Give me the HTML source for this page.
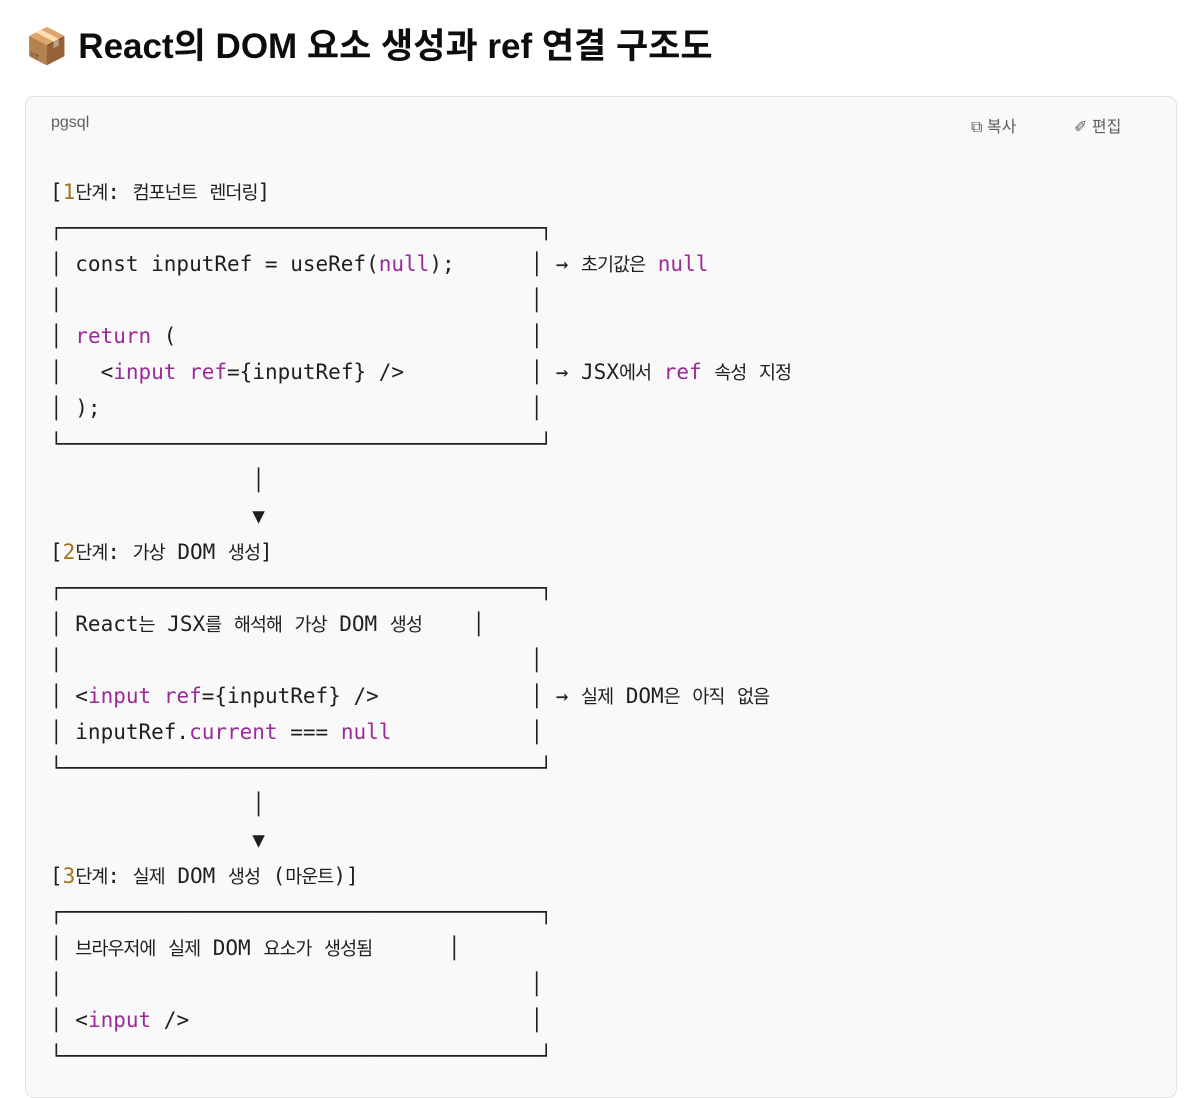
<!DOCTYPE html>
<html><head><meta charset="utf-8"><style>
html,body{margin:0;padding:0;background:#fff;width:1200px;height:1078px;overflow:hidden}
h1{position:absolute;left:25px;top:22px;margin:0;font:bold 35px/50px "Liberation Sans","Noto Sans CJK KR",sans-serif;color:#0d0d0d;letter-spacing:0}
.box{position:absolute;left:25px;top:96px;width:1150px;height:1000px;background:#f9f9f9;border:1px solid #e3e3e3;border-radius:9px}
.lang{position:absolute;left:25px;top:17px;font:16px "Liberation Sans",sans-serif;color:#5d5d5d}
.btn{position:absolute;top:16px;font:16px "Liberation Sans","Noto Sans CJK KR",sans-serif;color:#5d5d5d}
pre{position:absolute;left:24px;top:77px;margin:0;font:21px/36px "DejaVu Sans Mono",monospace;color:#1f1f1f}
.k{font-family:"Noto Sans CJK KR",sans-serif;font-size:18.5px;letter-spacing:-1px}
.b{letter-spacing:0.25px}
.p{color:#9a2a97}.n{color:#a3731c}
</style></head><body>
<h1>📦 React의 DOM 요소 생성과 ref 연결 구조도</h1>
<div class="box">
<div class="lang">pgsql</div>
<div class="btn" style="left:945px">⧉ 복사</div>
<div class="btn" style="left:1048px">✐ 편집</div>
<pre>[<span class="n">1</span><span class="k">단계</span>: <span class="k">컴포넌트</span> <span class="k">렌더링</span>]
<span class="b">┌─────────────────────────────────────┐</span>
│ const inputRef = useRef(<span class="p">null</span>);      │ → <span class="k">초기값은</span> <span class="p">null</span>
│                                     │
│ <span class="p">return</span> (                            │
│   &lt;<span class="p">input</span> <span class="p">ref</span>={inputRef} /&gt;          │ → JSX<span class="k">에서</span> <span class="p">ref</span> <span class="k">속성</span> <span class="k">지정</span>
│ );                                  │
<span class="b">└─────────────────────────────────────┘</span>
                │
                ▼
[<span class="n">2</span><span class="k">단계</span>: <span class="k">가상</span> DOM <span class="k">생성</span>]
<span class="b">┌─────────────────────────────────────┐</span>
│ React<span class="k">는</span> JSX<span class="k">를</span> <span class="k">해석해</span> <span class="k">가상</span> DOM <span class="k">생성</span>    │
│                                     │
│ &lt;<span class="p">input</span> <span class="p">ref</span>={inputRef} /&gt;            │ → <span class="k">실제</span> DOM<span class="k">은</span> <span class="k">아직</span> <span class="k">없음</span>
│ inputRef.<span class="p">current</span> === <span class="p">null</span>           │
<span class="b">└─────────────────────────────────────┘</span>
                │
                ▼
[<span class="n">3</span><span class="k">단계</span>: <span class="k">실제</span> DOM <span class="k">생성</span> (<span class="k">마운트</span>)]
<span class="b">┌─────────────────────────────────────┐</span>
│ <span class="k">브라우저에</span> <span class="k">실제</span> DOM <span class="k">요소가</span> <span class="k">생성됨</span>      │
│                                     │
│ &lt;<span class="p">input</span> /&gt;                           │
<span class="b">└─────────────────────────────────────┘</span></pre>
</div>
</body></html>
